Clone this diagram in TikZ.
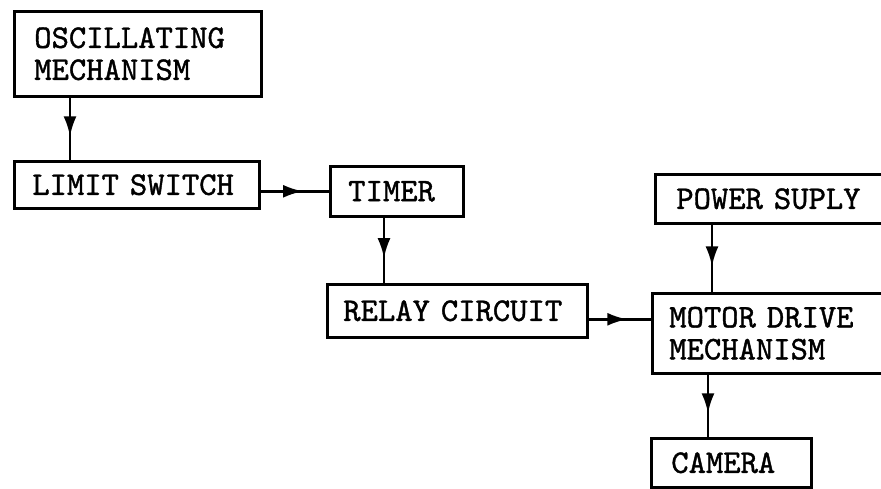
\documentclass[tikz,border=0pt]{standalone}
\usepackage{fontspec}
\newfontfamily\boxfont{lmmono10-regular.otf}[FakeBold=1.2]
\usetikzlibrary{arrows.meta,decorations.markings}
\begin{document}
\begin{tikzpicture}[x=1pt,y=-1pt,
  box/.style={draw,line width=2.6pt,anchor=north west,align=left,
    font=\boxfont\fontsize{33}{32}\selectfont,inner ysep=0pt},
  flow/.style={line width=2.6pt,postaction={decorate},
    decoration={markings,mark=at position 0.62 with {\arrow{Latex[length=20pt,width=13pt]}}}}]
\useasboundingbox (0,0) rectangle (881,489);
\clip (0,0) rectangle (881,489);
% boxes
\node[box,inner xsep=20pt,text width=207pt,minimum height=85pt] (osc) at (13,10) {OSCILLATING\\MECHANISM};
\node[box,inner xsep=18pt,text width=209pt,minimum height=47pt] (limit) at (13,160) {LIMIT SWITCH};
\node[box,inner xsep=18pt,text width=97pt,minimum height=50pt] (timer) at (329,165) {TIMER};
\node[box,inner xsep=16pt,text width=228pt,minimum height=53pt] (relay) at (326,283) {RELAY CIRCUIT};
\node[box,inner xsep=21pt,text width=220pt,minimum height=49pt] (power) at (654,173) {POWER SUPLY};
\node[box,inner xsep=17pt,text width=232pt,minimum height=80pt] (motor) at (651,292) {MOTOR DRIVE\\MECHANISM};
\node[box,inner xsep=20pt,text width=120pt,minimum height=49pt] (camera) at (650,437) {CAMERA};
% connectors
\draw[flow] ([xshift=57pt]osc.south west) -- ([xshift=57pt]osc.south west |- limit.north);
\draw[flow] (timer.west -| limit.east) -- (timer.west);
\draw[flow] ([xshift=55pt]timer.south west) -- ([xshift=55pt]timer.south west |- relay.north);
\draw[flow] ([yshift=-8.5pt]relay.east) -- ([yshift=-8.5pt]relay.east -| motor.west);
\draw[flow] ([xshift=58pt]power.south west) -- ([xshift=58pt]power.south west |- motor.north);
\draw[flow] ([xshift=57pt]motor.south west) -- ([xshift=57pt]motor.south west |- camera.north);
\end{tikzpicture}
\end{document}
